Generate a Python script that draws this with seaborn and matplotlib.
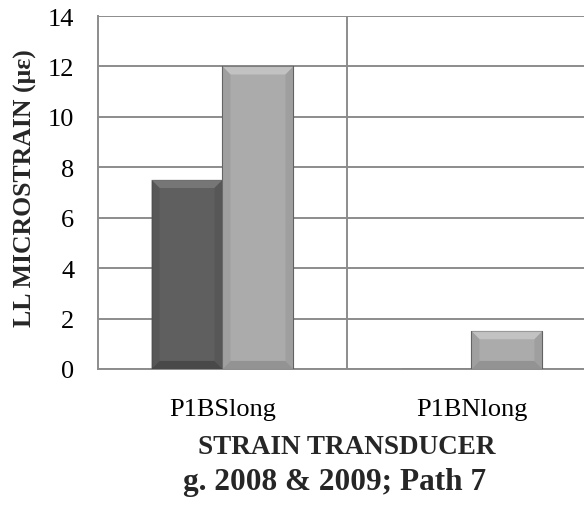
import matplotlib
matplotlib.use("Agg")
import matplotlib.pyplot as plt
from matplotlib.patches import Polygon
import pandas as pd
import seaborn as sns

# data
transducers = ["P1BSlong", "P1BNlong"]
years = ["2008", "2009"]
strain_2008 = [7.5, 0.0]
strain_2009 = [12.0, 1.5]

df = pd.DataFrame({
    "transducer": transducers * 2,
    "year": [years[0]] * 2 + [years[1]] * 2,
    "strain": strain_2008 + strain_2009,
})

sns.set_theme(style="white")
plt.rcParams["font.family"] = ["Liberation Serif", "DejaVu Serif"]

fig = plt.figure(figsize=(5.84, 5.06), dpi=100)
ax = fig.add_axes([98 / 584, 1 - 370 / 506, 498 / 584, 353 / 506])

face = {"2008": "#5f5f5f", "2009": "#ababab"}
sns.barplot(data=df, x="transducer", y="strain", hue="year", palette=face,
            width=0.57, ax=ax, legend=False, saturation=1,
            edgecolor="#404040", linewidth=0.8, zorder=3)

# fake bevel on each bar
shade = {"#5f5f5f": ("#7d7d7d", "#444444", "#555555"),
         "#ababab": ("#c8c8c8", "#8e8e8e", "#9c9c9c")}
for p in ax.patches:
    h = p.get_height()
    if h <= 0:
        continue
    x0, y0, w = p.get_x(), p.get_y(), p.get_width()
    fc = matplotlib.colors.to_hex(p.get_facecolor())
    top, bot, side = shade.get(fc, ("#cccccc", "#888888", "#999999"))
    bx = 0.032
    by = min(0.32, h / 3)
    x1, y1 = x0 + w, y0 + h
    polys = [
        ([(x0, y1), (x1, y1), (x1 - bx, y1 - by), (x0 + bx, y1 - by)], top),
        ([(x0, y0), (x1, y0), (x1 - bx, y0 + by), (x0 + bx, y0 + by)], bot),
        ([(x1, y0), (x1, y1), (x1 - bx, y1 - by), (x1 - bx, y0 + by)], side),
        ([(x0, y0), (x0, y1), (x0 + bx, y1 - by), (x0 + bx, y0 + by)], side),
    ]
    for pts, c in polys:
        ax.add_patch(Polygon(pts, closed=True, facecolor=c, edgecolor="none",
                             alpha=0.8, zorder=3.5))

ax.set_ylim(0, 14)
ax.set_yticks(range(0, 15, 2))
ax.set_xlim(-0.5, 1.5)
ax.set_xticks([0.5], minor=True)

grid_c = "#8c8c8c"
ax.grid(axis="y", which="major", color=grid_c, linewidth=1.4, zorder=0)
ax.grid(axis="x", which="minor", color=grid_c, linewidth=1.4, zorder=0)
ax.grid(axis="x", which="major", visible=False)
ax.set_axisbelow(True)

for side_name in ["top", "right"]:
    ax.spines[side_name].set_visible(False)
for side_name in ["left", "bottom"]:
    ax.spines[side_name].set_color(grid_c)
    ax.spines[side_name].set_linewidth(1.4)

ax.tick_params(axis="both", which="both", length=0, labelsize=19, colors="black")
ax.tick_params(axis="y", pad=17)
ax.tick_params(axis="x", pad=21)
ax.set_xlabel("")
ax.set_ylabel("")

fig.text(25 / 584, 1 - 188 / 506, "LL MICROSTRAIN (με)", fontsize=18.5,
         fontweight="bold", rotation=90, ha="center", va="center")
fig.text(347 / 584, 1 - 448 / 506, "STRAIN TRANSDUCER", fontsize=19.5,
         fontweight="bold", ha="center", va="center")
fig.text(335 / 584, 1 - 483 / 506, "g. 2008 & 2009; Path 7", fontsize=22.5,
         fontweight="bold", ha="center", va="center")

fig.savefig("out.png", dpi=100)
